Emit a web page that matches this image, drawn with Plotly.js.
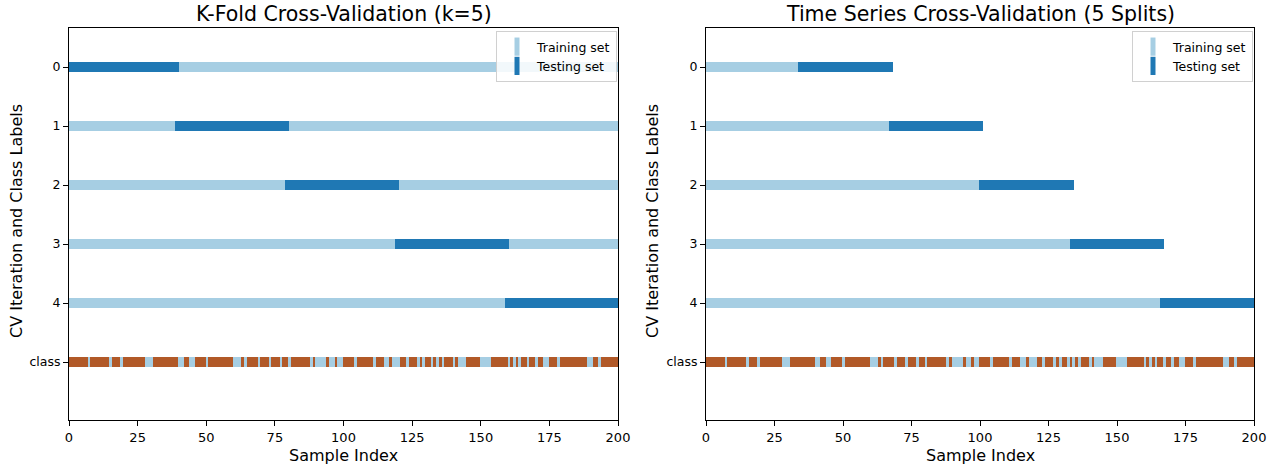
<!DOCTYPE html>
<html>
<head>
<meta charset="utf-8">
<script src="https://cdn.plot.ly/plotly-3.0.1.min.js"></script>
<style>html,body{margin:0;padding:0;background:#fff}#chart{width:1277px;height:470px}</style>
</head>
<body>
<div id="chart"></div>
<script>
// ---- data ----
const nSamples = 200;
const classLabels = [
  1,1,1,1,1,1,1,1,0,1, 1,1,1,1,1,1,0,1,1,1, 0,1,1,1,1,1,1,1,1,0, 0,0,1,1,1,1,1,1,1,1,
  1,0,0,1,1,0,0,1,1,1, 1,0,1,1,1,1,1,1,1,1, 1,0,0,0,1,0,1,1,1,1, 0,1,1,1,0,1,1,1,0,1,
  1,0,1,1,1,1,1,1,1,0, 1,0,0,0,0,1,0,0,1,0, 0,1,1,1,1,0,1,1,1,1, 1,1,0,1,1,1,0,0,1,0,
  0,0,1,1,0,1,1,1,0,1, 0,1,1,0,1,0,1,0,1,1, 1,0,1,0,0,0,1,1,1,1, 1,0,0,0,0,1,1,1,1,1,
  1,0,1,0,1,0,1,1,0,1, 1,0,1,1,0,0,1,1,1,0, 1,1,1,1,1,1,1,1,1,1, 0,0,1,1,0,1,1,1,1,1
];
const kfoldTestStart = [0, 40, 80, 120, 160];
const kfoldTestEnd   = [39, 79, 119, 159, 199];
const tsTrainEnd = [34, 67, 100, 133, 166];
const tsTestEnd  = [67, 100, 133, 166, 199];
const rowLabels = ['0', '1', '2', '3', '4', 'class'];
const rowPositions = [0, 1, 2, 3, 4, 5];
const xTicks = [0, 25, 50, 75, 100, 125, 150, 175, 200];

// ---- style ----
const TRAIN = '#a6cee3', TEST = '#1f78b4';
const CLASS_COLORS = {0: '#a6cee3', 1: '#b15928'};
const HALF = 1.25;        // half length of each sample dash (data units)
const THICK = 0.17;       // row thickness (data units)
const FONT = 'DejaVu Sans';

function rowTrace(indices, colors, y, xa, ya, thick) {
  return {
    type: 'bar', orientation: 'h',
    y: indices.map(() => y),
    x: indices.map(() => 2 * HALF),
    base: indices.map(i => i - HALF),
    width: thick,
    marker: {color: colors, line: {width: 0}},
    xaxis: xa, yaxis: ya, showlegend: false, hoverinfo: 'skip'
  };
}
const range = (a, b) => { const r = []; for (let i = a; i <= b; i++) r.push(i); return r; };

const traces = [];
// K-Fold rows
for (let k = 0; k < kfoldTestStart.length; k++) {
  const all = range(0, nSamples - 1);
  const test = all.filter(i => i >= kfoldTestStart[k] && i <= kfoldTestEnd[k]);
  const train = all.filter(i => i < kfoldTestStart[k] || i > kfoldTestEnd[k]);
  const idx = train.concat(test);
  const cols = train.map(() => TRAIN).concat(test.map(() => TEST));
  traces.push(rowTrace(idx, cols, rowPositions[k], 'x', 'y', THICK));
}
// Time series rows
for (let k = 0; k < tsTrainEnd.length; k++) {
  const train = range(0, tsTrainEnd[k]);
  const test = range(tsTrainEnd[k] + 1, tsTestEnd[k]);
  const idx = train.concat(test);
  const cols = train.map(() => TRAIN).concat(test.map(() => TEST));
  traces.push(rowTrace(idx, cols, rowPositions[k], 'x2', 'y2', THICK));
}
// class rows
const allIdx = range(0, nSamples - 1);
const classCols = allIdx.map(i => CLASS_COLORS[classLabels[i]]);
traces.push(rowTrace(allIdx, classCols, rowPositions[5], 'x', 'y', THICK));
traces.push(rowTrace(allIdx, classCols, rowPositions[5], 'x2', 'y2', THICK));

// legend entries
function legTrace(name, color, xa, ya, leg) {
  return {type: 'scatter', mode: 'markers', x: [null], y: [null], name: name,
    marker: {symbol: 'line-ns', size: 13, line: {width: 7, color: color}, color: color},
    xaxis: xa, yaxis: ya, legend: leg, showlegend: true, hoverinfo: 'skip'};
}
traces.push(legTrace('Training set', TRAIN, 'x', 'y', 'legend'));
traces.push(legTrace('Testing set', TEST, 'x', 'y', 'legend'));
traces.push(legTrace('Training set', TRAIN, 'x2', 'y2', 'legend2'));
traces.push(legTrace('Testing set', TEST, 'x2', 'y2', 'legend2'));

const W = 1277, H = 470;
const px = v => v / W, py = v => 1 - v / H;

function xaxis(dom) {
  return {domain: dom, range: [0, 200], tickvals: xTicks, ticks: 'outside', ticklen: 5, tickwidth: 1,
    tickcolor: '#000', showline: true, mirror: true, linecolor: '#000', linewidth: 1,
    showgrid: false, zeroline: false, tickfont: {size: 13, color: '#000'}, fixedrange: true};
}
function yaxis(anchor) {
  return {domain: [py(420), py(28)], range: [5.983, -0.661], tickvals: rowPositions, ticktext: rowLabels,
    ticks: 'outside', ticklen: 5, tickwidth: 1, tickcolor: '#000', showline: true, mirror: true,
    linecolor: '#000', linewidth: 1, showgrid: false, zeroline: false, anchor: anchor,
    tickfont: {size: 12.5, color: '#000'}, fixedrange: true};
}
const legBase = {xanchor: 'right', yanchor: 'top', bgcolor: 'rgba(255,255,255,0.85)', bordercolor: '#d0d0d0',
  borderwidth: 1, font: {size: 12.5, color: '#000'}, tracegroupgap: 0, itemwidth: 30};

const layout = {
  width: W, height: H, margin: {l: 0, r: 0, t: 0, b: 0},
  paper_bgcolor: '#fff', plot_bgcolor: '#fff', barmode: 'overlay', bargap: 0,
  font: {family: FONT, color: '#000'},
  xaxis: xaxis([px(69), px(618)]),
  yaxis: yaxis('x'),
  xaxis2: xaxis([px(706), px(1254)]),
  yaxis2: yaxis('x2'),
  legend: Object.assign({x: px(617), y: py(31)}, legBase),
  legend2: Object.assign({x: px(1253), y: py(31)}, legBase),
  annotations: [
    {text: 'K-Fold Cross-Validation (k=5)', xref: 'paper', yref: 'paper', x: px((69 + 618) / 2), y: py(14),
      xanchor: 'center', yanchor: 'middle', showarrow: false, font: {size: 20.5}},
    {text: 'Time Series Cross-Validation (5 Splits)', xref: 'paper', yref: 'paper', x: px((706 + 1254) / 2), y: py(14),
      xanchor: 'center', yanchor: 'middle', showarrow: false, font: {size: 20.5}},
    {text: 'Sample Index', xref: 'paper', yref: 'paper', x: px((69 + 618) / 2), y: py(455),
      xanchor: 'center', yanchor: 'middle', showarrow: false, font: {size: 16}},
    {text: 'Sample Index', xref: 'paper', yref: 'paper', x: px((706 + 1254) / 2), y: py(455),
      xanchor: 'center', yanchor: 'middle', showarrow: false, font: {size: 16}},
    {text: 'CV Iteration and Class Labels', xref: 'paper', yref: 'paper', x: px(16), y: py(221),
      xanchor: 'center', yanchor: 'middle', textangle: -90, showarrow: false, font: {size: 16}},
    {text: 'CV Iteration and Class Labels', xref: 'paper', yref: 'paper', x: px(652), y: py(221),
      xanchor: 'center', yanchor: 'middle', textangle: -90, showarrow: false, font: {size: 16}}
  ]
};

Plotly.newPlot('chart', traces, layout, {displayModeBar: false, staticPlot: true});
</script>
</body>
</html>
